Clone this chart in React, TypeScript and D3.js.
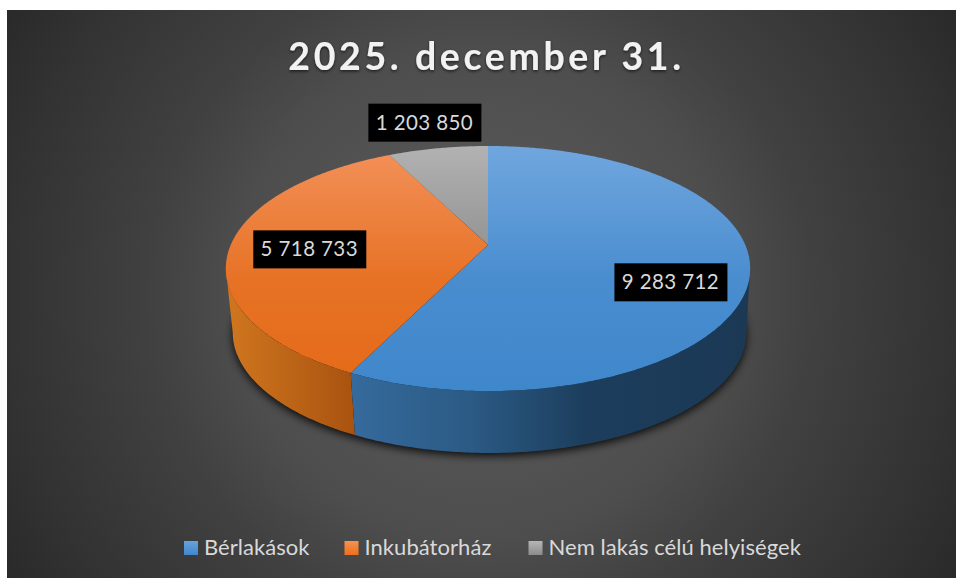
import React from "react";
import * as d3 from "d3";

const categories = ["Bérlakások", "Inkubátorház", "Nem lakás célú helyiségek"];
const values = [9283712, 5718733, 1203850];
const valueLabels = ["9 283 712", "5 718 733", "1 203 850"];
const chartTitle = "2025. december 31.";

const width = 956;
const height = 578;
const frame = { x: 7, y: 10 };

// perspective of the tilted disc: far edge is squeezed, near edge stretched
const apexY = 245;
const tilt = 0.192;
const topDisc = { cx: 488, rx: 257.3, ry: 118, cy: apexY };
const bottomDisc = { cx: 489.5, rx: 252, ry: 116, cy: 309.4 };

const project = (theta: number, disc = topDisc, r = 1): [number, number] => {
  const u = r * Math.sin(theta);
  const v = -r * Math.cos(theta);
  const d = 1 - tilt * v;
  return [disc.cx + (disc.rx * u) / d, disc.cy + (disc.ry * v) / d];
};

const samples = (a0: number, a1: number) => {
  const n = Math.max(2, Math.ceil((a1 - a0) / 0.01));
  return d3.range(n + 1).map(i => a0 + ((a1 - a0) * i) / n);
};

const line = d3.line().curve(d3.curveLinearClosed);

const pie = d3.pie<number>().sort(null).startAngle(0).endAngle(2 * Math.PI);
const arcs = pie(values);

const fullTurn = samples(0, 2 * Math.PI);
const shadowPath = line(fullTurn.map(t => project(t, bottomDisc)));

const slicePath = (a0: number, a1: number) =>
  line([[topDisc.cx, apexY], ...samples(a0, a1).map(t => project(t))] as [number, number][]);

// widest points of the projected disc, the wall is only seen between them
const tangent = Math.acos(-tilt);
const sidePath = (a0: number, a1: number) => {
  const from = Math.max(a0, tangent);
  const to = Math.min(a1, 2 * Math.PI - tangent);
  if (from >= to) return null;
  const t = samples(from, to);
  return line([
    ...t.map(a => project(a)),
    ...t.slice().reverse().map(a => project(a, bottomDisc)),
  ] as [number, number][]);
};

const topColors = [
  ["#70a6de", "#3f87cb"],
  ["#f3915a", "#e46a18"],
  ["#b2b2b2", "#808080"],
];
const sideFill = ["url(#side0)", "url(#side1)"];

// label box centres relative to the projected mid angle of each slice
const labelRadius = [0.7, 0.7, 1.12];
const labelShift = [
  [2, 18],
  [2, 4],
  [-8, -16],
];
const labelBox = { w: 113, h: 38 };

const legendX = [184, 344.5, 528.5];
const legendSwatch = [
  ["#68a2dc", "#3f87cb"],
  ["#f5934f", "#ec6f1c"],
  ["#b5b5b5", "#8c8c8c"],
];

const font = "Lato, 'Open Sans', sans-serif";

export default function App() {
  return (
    <svg
      width={width}
      height={height}
      style={{ position: "absolute", left: 0, top: 0, display: "block" }}
    >
      <defs>
        <radialGradient id="bg" gradientUnits="userSpaceOnUse" cx={481} cy={294} r={550}>
          <stop offset="0" stopColor="#5e5e5e" />
          <stop offset="0.45" stopColor="#4d4d4d" />
          <stop offset="0.6" stopColor="#414141" />
          <stop offset="0.87" stopColor="#323232" />
          <stop offset="1" stopColor="#2a2a2a" />
        </radialGradient>
        {topColors.map((c, i) => (
          <linearGradient
            key={i}
            id={`top${i}`}
            gradientUnits="userSpaceOnUse"
            x1={0}
            x2={0}
            y1={146}
            y2={391}
          >
            <stop offset="0" stopColor={c[0]} />
            <stop offset="0.55" stopColor={d3.interpolateRgb(c[0], c[1])(0.8)} />
            <stop offset="1" stopColor={c[1]} />
          </linearGradient>
        ))}
        <linearGradient id="side0" gradientUnits="userSpaceOnUse" x1={353} x2={746} y1={0} y2={0}>
          <stop offset="0" stopColor="#356a9c" />
          <stop offset="0.3" stopColor="#2b5a84" />
          <stop offset="0.6" stopColor="#1c3d5c" />
          <stop offset="1" stopColor="#1b3955" />
        </linearGradient>
        <linearGradient id="side1" gradientUnits="userSpaceOnUse" x1={228} x2={356} y1={0} y2={0}>
          <stop offset="0" stopColor="#d0761f" />
          <stop offset="1" stopColor="#a8520f" />
        </linearGradient>
        {legendSwatch.map((c, i) => (
          <linearGradient key={i} id={`swatch${i}`} x1={0} x2={0} y1={0} y2={1}>
            <stop offset="0" stopColor={c[0]} />
            <stop offset="1" stopColor={c[1]} />
          </linearGradient>
        ))}
        <filter id="blur" x="-10%" y="-10%" width="120%" height="120%">
          <feGaussianBlur stdDeviation="4" />
        </filter>
        <filter id="titleShadow" x="-5%" y="-20%" width="110%" height="150%">
          <feDropShadow dx="0" dy="1.5" stdDeviation="1.5" floodColor="#000" floodOpacity="0.6" />
        </filter>
      </defs>

      <rect x={0} y={0} width={width} height={height} fill="#fff" />
      <rect
        x={frame.x}
        y={frame.y}
        width={width - frame.x}
        height={height - frame.y}
        fill="url(#bg)"
      />

      <text
        x={486.5}
        y={70}
        textAnchor="middle"
        fontFamily={font}
        fontWeight={700}
        fontSize={37.5}
        letterSpacing={3.6}
        fill="#f2f2f2"
        filter="url(#titleShadow)"
      >
        {chartTitle}
      </text>

      <path d={shadowPath ?? ""} transform="translate(0,3)" fill="#000" opacity={0.85} filter="url(#blur)" />

      {[1, 0].map(i => {
        const d = sidePath(arcs[i].startAngle, arcs[i].endAngle);
        return d ? <path key={i} d={d} fill={sideFill[i]} /> : null;
      })}

      {arcs.map((a, i) => (
        <path key={i} d={slicePath(a.startAngle, a.endAngle) ?? ""} fill={`url(#top${i})`} />
      ))}

      {arcs.map((a, i) => {
        const mid = (a.startAngle + a.endAngle) / 2;
        const [px, py] = project(mid, topDisc, labelRadius[i]);
        const x = px + labelShift[i][0];
        const y = py + labelShift[i][1];
        return (
          <g key={i}>
            <rect x={x - labelBox.w / 2} y={y - labelBox.h / 2} width={labelBox.w} height={labelBox.h} fill="#000" />
            <text
              x={x - 0.5}
              y={y + 7}
              textAnchor="middle"
              fontFamily={font}
              fontSize={20.5}
              letterSpacing={0.4}
              fill="#d9d9d9"
            >
              {valueLabels[i]}
            </text>
          </g>
        );
      })}

      {categories.map((c, i) => (
        <g key={i}>
          <rect x={legendX[i]} y={541} width={14} height={14} fill={`url(#swatch${i})`} />
          <text x={legendX[i] + 20} y={555} fontFamily={font} fontSize={22} letterSpacing={0.05} fill="#d9d9d9">
            {c}
          </text>
        </g>
      ))}
    </svg>
  );
}
